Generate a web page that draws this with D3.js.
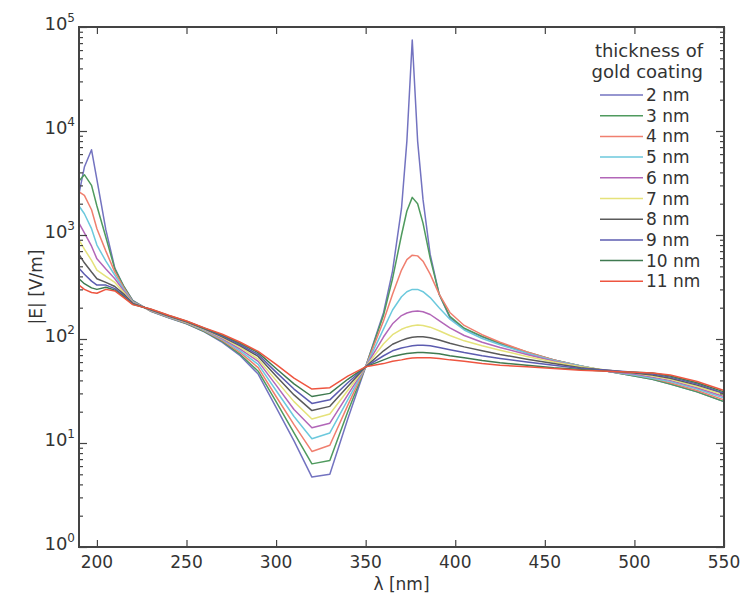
<!DOCTYPE html>
<html>
<head>
<meta charset="utf-8">
<script src="https://cdn.jsdelivr.net/npm/d3@7"></script>
<style>
  body { margin: 0; background: #fff; }
  svg { display: block; font-family: "DejaVu Sans", Verdana, sans-serif; }
  .tick-label { fill: #333; font-size: 17px; }
  .axis-title { fill: #333; font-size: 17px; }
  .legend-text { fill: #333; font-size: 17px; }
  .legend-title { fill: #333; font-size: 18px; }
</style>
</head>
<body>
<svg width="743" height="595"></svg>
<script>
// wavelength grid (nm)
const wavelengths = [190, 193, 197, 200, 205, 210, 215, 220,
    230, 240, 250, 260, 270, 280, 290, 300, 310, 320, 330, 340, 350,
    360, 365, 370, 373, 376, 379, 382, 386, 391, 397,
    405, 415, 425, 440, 455, 470, 485, 500, 510, 520, 535, 550];

// |E| in V/m for each gold coating thickness
const e2nm = [2500, 4500, 6600, 3400, 1120, 480, 320, 235,
    185, 160, 140, 117, 93, 69, 46, 22, 10.5, 4.7, 5.0, 17, 54,
    180, 450, 1800, 8000, 75000, 8000, 2200, 650, 270, 160,
    125, 105, 90, 74, 63, 55, 49, 44, 41, 37, 31, 25];
const e3nm = [3300, 3800, 3000, 1900, 950, 470, 320, 232,
    186, 161, 141, 118, 95, 71, 49, 25, 12.5, 6.3, 6.8, 20, 54,
    170, 380, 1000, 1700, 2300, 2000, 1300, 600, 270, 165,
    127, 106, 91, 75, 63, 55, 49, 44, 41, 37, 31, 25];
const e4nm = [2600, 2400, 1750, 1150, 700, 440, 310, 229,
    187, 162, 142, 120, 97, 74, 53, 28, 15, 8.3, 9.5, 23, 54,
    150, 270, 460, 580, 640, 630, 560, 420, 270, 180,
    135, 110, 93, 75, 63, 55, 49, 45, 42, 38, 32, 26];
const e5nm = [1900, 1600, 1150, 800, 560, 410, 300, 227,
    188, 163, 143, 121, 99, 77, 57, 32, 18, 11, 12.5, 26, 54,
    125, 190, 255, 285, 300, 300, 285, 250, 200, 155,
    122, 101, 88, 73, 62, 55, 49, 45, 42, 39, 33, 27];
const e6nm = [1300, 1050, 780, 590, 470, 380, 290, 225,
    189, 164, 144, 123, 101, 80, 61, 36, 21, 14, 15.5, 29, 54,
    105, 140, 168, 178, 184, 186, 183, 172, 150, 128,
    108, 93, 83, 71, 61, 54, 49, 46, 43, 40, 34, 28];
const e7nm = [900, 730, 570, 460, 400, 350, 280, 222,
    190, 165, 145, 124, 103, 83, 64, 40, 25, 17, 19, 32, 54,
    90, 110, 124, 130, 134, 136, 135, 130, 120, 108,
    96, 86, 78, 68, 60, 54, 50, 47, 44, 41, 35, 29];
const e8nm = [650, 540, 440, 380, 350, 320, 270, 220,
    191, 166, 146, 125, 105, 86, 68, 44, 29, 20.5, 22.5, 35, 54,
    77, 89, 97, 101, 104, 105, 105, 103, 98, 91,
    84, 77, 71, 64, 58, 53, 50, 47, 45, 42, 36, 30];
const e9nm = [480, 420, 360, 330, 330, 305, 262, 218,
    192, 167, 147, 126, 107, 88, 71, 48, 33, 24, 26, 38, 54,
    69, 77, 82, 84, 86, 87, 87, 86, 83, 79,
    74, 69, 65, 60, 56, 52, 50, 48, 46, 43, 37, 30];
const e10nm = [380, 340, 310, 300, 315, 295, 255, 216,
    193, 168, 148, 127, 109, 91, 74, 52, 37, 28, 30, 41, 54,
    63, 68, 71, 72.5, 73.5, 74, 74, 73.5, 72, 69,
    66, 62, 59, 56, 53, 51, 49, 48, 47, 44, 38, 31];
const e11nm = [330, 300, 280, 275, 300, 290, 250, 214,
    194, 169, 149, 128, 111, 93, 76, 57, 42, 33, 34, 44, 54,
    58, 61, 63, 64.5, 65.5, 66, 66, 66, 65, 63,
    61, 58, 56, 54, 52, 50, 49, 48, 47, 45, 39, 32];

const thicknessLabels = ["2 nm", "3 nm", "4 nm", "5 nm", "6 nm",
    "7 nm", "8 nm", "9 nm", "10 nm", "11 nm"];
const seriesColors = ["#7373c0", "#4f9a5e", "#f07f6f", "#6cc9dd", "#b266b8",
    "#e5e27a", "#5a5a5a", "#5c5cb0", "#3f7a50", "#ee5540"];
const xTicks = [200, 250, 300, 350, 400, 450, 500, 550];
const yExponents = [0, 1, 2, 3, 4, 5];

const allSeries = [e2nm, e3nm, e4nm, e5nm, e6nm, e7nm, e8nm, e9nm, e10nm, e11nm];

const plotLeft = 79, plotRight = 724, plotTop = 27, plotBottom = 547;
const svg = d3.select("svg");

const x = d3.scaleLinear().domain([190, 550]).range([plotLeft, plotRight]);
const y = d3.scaleLog().domain([1, 1e5]).range([plotBottom, plotTop]);

// minor log ticks
const minorTicks = [];
for (let e = 0; e < 5; e++) {
    for (let m = 2; m <= 9; m++) minorTicks.push(m * Math.pow(10, e));
}
const majorTicks = yExponents.map(e => Math.pow(10, e));

// curves
const line = d3.line()
    .x((d, i) => x(wavelengths[i]))
    .y(d => y(d));

svg.append("g")
    .selectAll("path")
    .data(allSeries)
    .join("path")
    .attr("fill", "none")
    .attr("stroke", (d, i) => seriesColors[i])
    .attr("stroke-width", 1.5)
    .attr("stroke-linejoin", "round")
    .attr("d", line);

// axes with inward ticks
const axisColor = "#444";
function styleAxis(g) {
    g.select(".domain").remove();
    g.selectAll(".tick line").attr("stroke", axisColor).attr("stroke-width", 1.2);
}

svg.append("g")
    .attr("transform", `translate(0,${plotBottom})`)
    .call(d3.axisBottom(x).tickValues(xTicks).tickSize(-7).tickFormat(""))
    .call(styleAxis);
svg.append("g")
    .attr("transform", `translate(0,${plotTop})`)
    .call(d3.axisTop(x).tickValues(xTicks).tickSize(-7).tickFormat(""))
    .call(styleAxis);

svg.append("g")
    .attr("transform", `translate(${plotLeft},0)`)
    .call(d3.axisLeft(y).tickValues(majorTicks).tickSize(-8).tickFormat(""))
    .call(styleAxis);
svg.append("g")
    .attr("transform", `translate(${plotLeft},0)`)
    .call(d3.axisLeft(y).tickValues(minorTicks).tickSize(-4).tickFormat(""))
    .call(styleAxis);
svg.append("g")
    .attr("transform", `translate(${plotRight},0)`)
    .call(d3.axisRight(y).tickValues(majorTicks).tickSize(-8).tickFormat(""))
    .call(styleAxis);
svg.append("g")
    .attr("transform", `translate(${plotRight},0)`)
    .call(d3.axisRight(y).tickValues(minorTicks).tickSize(-4).tickFormat(""))
    .call(styleAxis);

// frame
svg.append("rect")
    .attr("x", plotLeft).attr("y", plotTop)
    .attr("width", plotRight - plotLeft).attr("height", plotBottom - plotTop)
    .attr("fill", "none")
    .attr("stroke", axisColor)
    .attr("stroke-width", 2);

// tick labels
svg.append("g")
    .selectAll("text")
    .data(xTicks)
    .join("text")
    .attr("class", "tick-label")
    .attr("x", d => x(d))
    .attr("y", plotBottom + 21)
    .attr("text-anchor", "middle")
    .text(d => d);

const yLabels = svg.append("g")
    .selectAll("text")
    .data(yExponents)
    .join("text")
    .attr("class", "tick-label")
    .style("font-size", "18px")
    .attr("x", plotLeft - 4)
    .attr("y", d => y(Math.pow(10, d)) + 3)
    .attr("text-anchor", "end");
yLabels.append("tspan").text("10");
yLabels.append("tspan")
    .attr("dy", -8)
    .style("font-size", "12px")
    .text(d => d);

// axis titles
svg.append("text")
    .attr("class", "axis-title")
    .attr("x", (plotLeft + plotRight) / 2)
    .attr("y", 590)
    .attr("text-anchor", "middle")
    .text("λ [nm]");

svg.append("text")
    .attr("class", "axis-title")
    .attr("transform", `translate(42,${(plotTop + plotBottom) / 2}) rotate(-90)`)
    .attr("text-anchor", "middle")
    .text("|E| [V/m]");

// legend
const legend = svg.append("g");
legend.append("text")
    .attr("class", "legend-title")
    .attr("x", 703).attr("y", 57)
    .attr("text-anchor", "end")
    .text("thickness of");
legend.append("text")
    .attr("class", "legend-title")
    .attr("x", 703).attr("y", 78)
    .attr("text-anchor", "end")
    .text("gold coating");

const items = legend.selectAll("g.item")
    .data(thicknessLabels)
    .join("g")
    .attr("class", "item")
    .attr("transform", (d, i) => `translate(0,${95 + i * 20.7})`);
items.append("line")
    .attr("x1", 600).attr("x2", 643)
    .attr("stroke", (d, i) => seriesColors[i])
    .attr("stroke-width", 1.5);
items.append("text")
    .attr("class", "legend-text")
    .attr("x", 646)
    .attr("y", 6)
    .text(d => d);
</script>
</body>
</html>
